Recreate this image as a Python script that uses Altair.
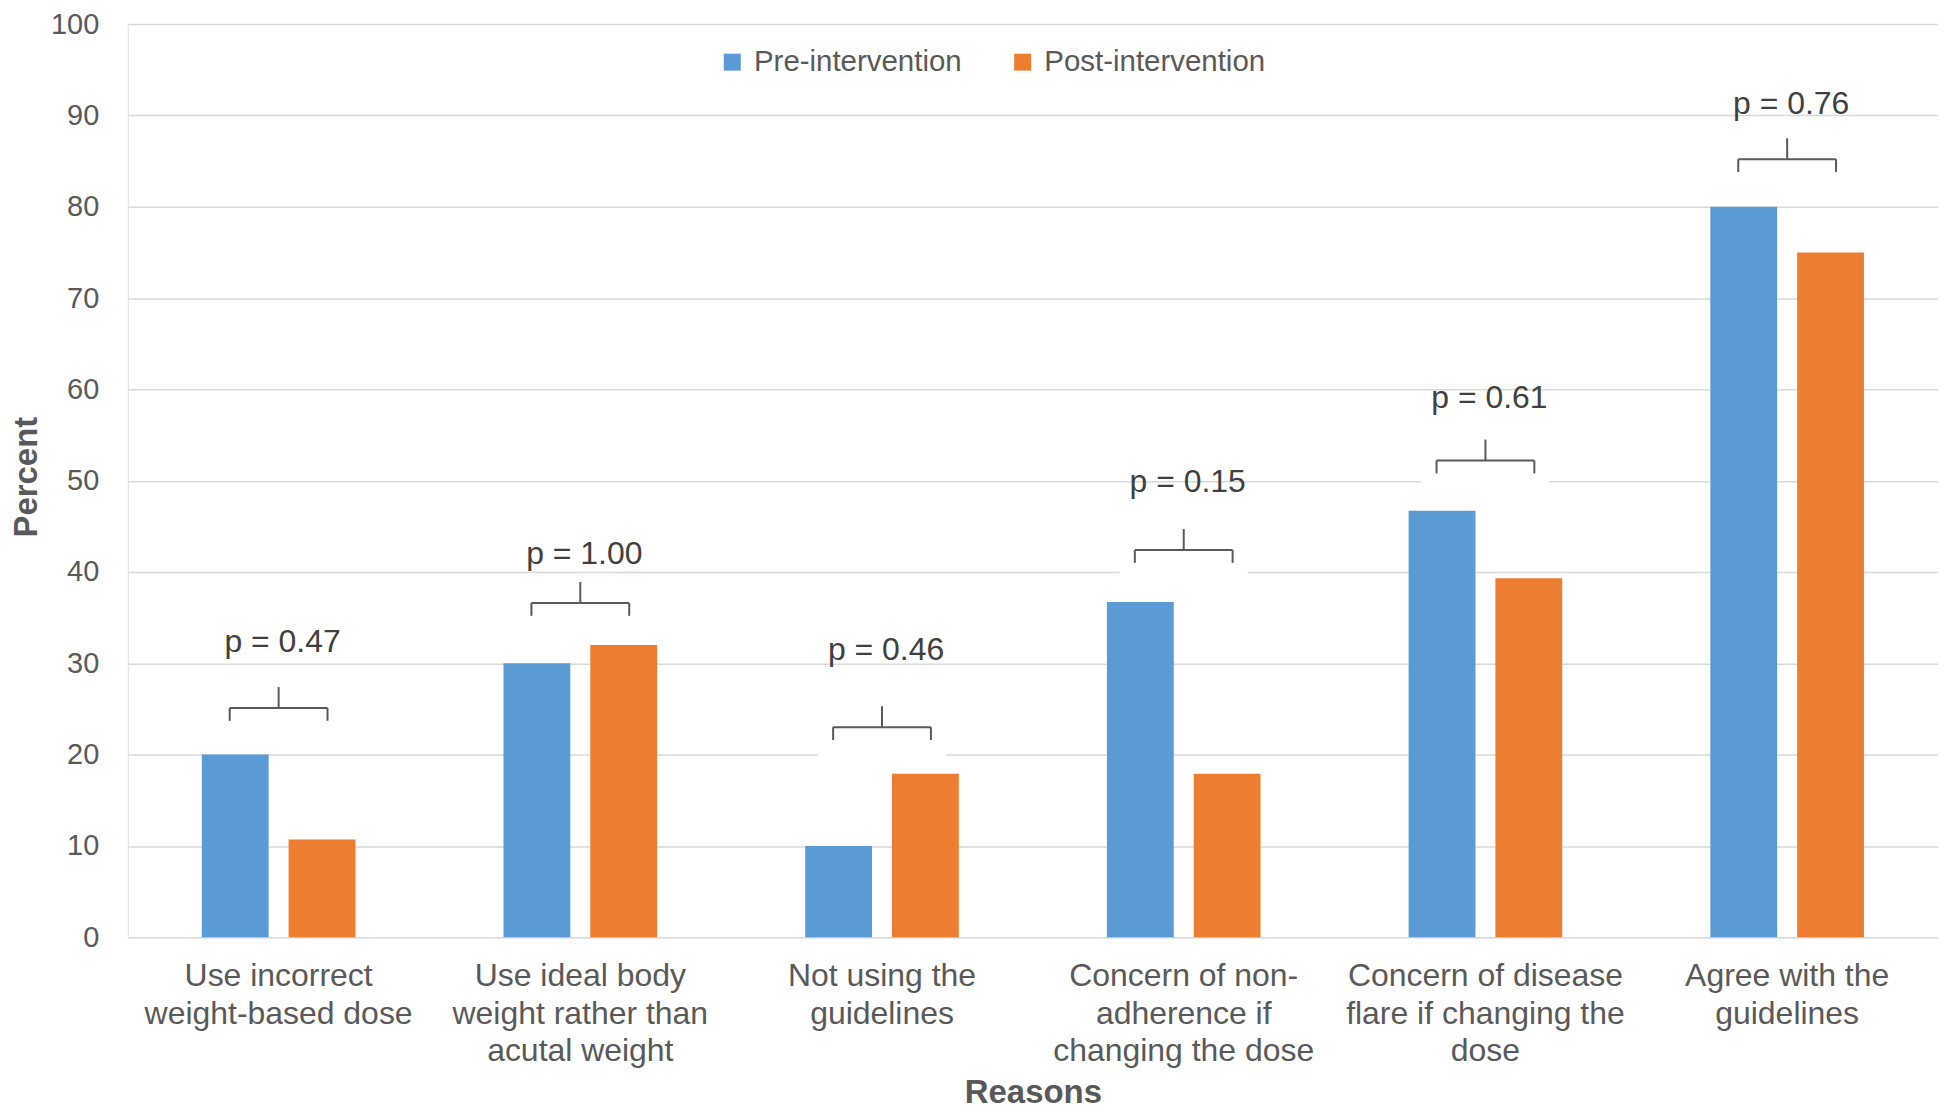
import altair as alt
import pandas as pd

categories = [
    "Use incorrect\nweight-based dose",
    "Use ideal body\nweight rather than\nacutal weight",
    "Not using the\nguidelines",
    "Concern of non-\nadherence if\nchanging the dose",
    "Concern of disease\nflare if changing the\ndose",
    "Agree with  the\nguidelines",
]
series = ["Pre-intervention", "Post-intervention"]
pre_values = [20, 30, 10, 36.7, 46.7, 80]
post_values = [10.7, 32, 17.9, 17.9, 39.3, 75]
p_labels = ["p = 0.47", "p = 1.00", "p = 0.46", "p = 0.15", "p = 0.61", "p = 0.76"]
bracket_y = [25.1, 36.6, 23.0, 42.4, 52.2, 85.2]
p_text_y = [32.3, 42.0, 31.5, 49.9, 59.1, 91.2]

bars = pd.DataFrame({
    "Reason": categories * 2,
    "Group": [series[0]] * len(categories) + [series[1]] * len(categories),
    "Percent": pre_values + post_values,
})
ann = pd.DataFrame({
    "Reason": categories,
    "label": p_labels,
    "by": bracket_y,
    "by_end": [b - 1.4 for b in bracket_y],
    "by_top": [b + 2.3 for b in bracket_y],
    "box_y": [b - 0.35 for b in bracket_y],
    "ty": p_text_y,
})

FONT = "Liberation Sans"
GRAY = "#595959"
H = 915

x_enc = alt.X("Reason:N", sort=categories,
              scale=alt.Scale(paddingInner=0, paddingOuter=0),
              axis=alt.Axis(title="Reasons", labelExpr="split(datum.label, '\\n')",
                            labelAngle=0, labelFontSize=32, labelColor=GRAY, labelFont=FONT,
                            labelLineHeight=38, labelPadding=23, labelLimit=0,
                            domain=False, ticks=False,
                            titleFontSize=33, titleFont=FONT, titleFontWeight="bold",
                            titleColor=GRAY, titleY=156, titleBaseline="middle", grid=False))
y_scale = alt.Scale(domain=[0, 100], nice=False)

bar_layer = alt.Chart(bars).mark_bar().encode(
    x=x_enc,
    xOffset=alt.XOffset("Group:N", sort=series,
                        scale=alt.Scale(paddingInner=0.23, paddingOuter=0.853)),
    y=alt.Y("Percent:Q", scale=y_scale,
            axis=alt.Axis(title="Percent", values=list(range(0, 101, 10)),
                          labelFontSize=29, labelColor=GRAY, labelFont=FONT,
                          labelPadding=29, domain=False, ticks=False,
                          gridColor="#d9d9d9", gridWidth=1.5,
                          titleFontSize=33, titleFont=FONT, titleFontWeight="bold",
                          titleColor=GRAY, titleX=-101, titleY=H / 2 - 4, titleAngle=270,
                          titleAlign="center", titleBaseline="middle")),
    color=alt.Color("Group:N", sort=series,
                    scale=alt.Scale(domain=series, range=["#5B9BD5", "#ED7D31"]),
                    legend=alt.Legend(title=None, orient="none", legendX=591, legendY=23,
                                      direction="horizontal", symbolType="square",
                                      symbolSize=289, symbolStrokeWidth=0,
                                      labelFontSize=29.5, labelFont=FONT, labelColor=GRAY,
                                      labelLimit=0, labelOffset=7, columnPadding=46,
                                      padding=0)),
)

base = alt.Chart(ann)
xa = alt.X("Reason:N", sort=categories)

box = base.mark_rule(color="white", strokeWidth=54, strokeCap="butt",
                     xOffset=-64, x2Offset=64).encode(
    x=xa, x2="Reason:N", y=alt.Y("box_y:Q", scale=y_scale))
hline = base.mark_rule(color=GRAY, strokeWidth=2, xOffset=-49, x2Offset=49).encode(
    x=xa, x2="Reason:N", y=alt.Y("by:Q", scale=y_scale))
left_end = base.mark_rule(color=GRAY, strokeWidth=2, xOffset=-49).encode(
    x=xa, y=alt.Y("by:Q", scale=y_scale), y2="by_end:Q")
right_end = base.mark_rule(color=GRAY, strokeWidth=2, xOffset=49).encode(
    x=xa, y=alt.Y("by:Q", scale=y_scale), y2="by_end:Q")
tick = base.mark_rule(color=GRAY, strokeWidth=2).encode(
    x=xa, y=alt.Y("by:Q", scale=y_scale), y2="by_top:Q")
ptext = base.mark_text(fontSize=32, font=FONT, color="#404040", baseline="middle",
                       align="center", dx=4).encode(
    x=xa, y=alt.Y("ty:Q", scale=y_scale), text="label:N")

chart = alt.layer(bar_layer, box, hline, left_end, right_end, tick, ptext).properties(
    width=1814, height=H,
    autosize=alt.AutoSizeParams(type="none"),
    padding={"left": 120, "top": 15, "right": 0, "bottom": 173},
).configure_view(stroke=None).configure(background="white")

chart.save("out.html", embed_options={"renderer": "svg", "actions": False})
